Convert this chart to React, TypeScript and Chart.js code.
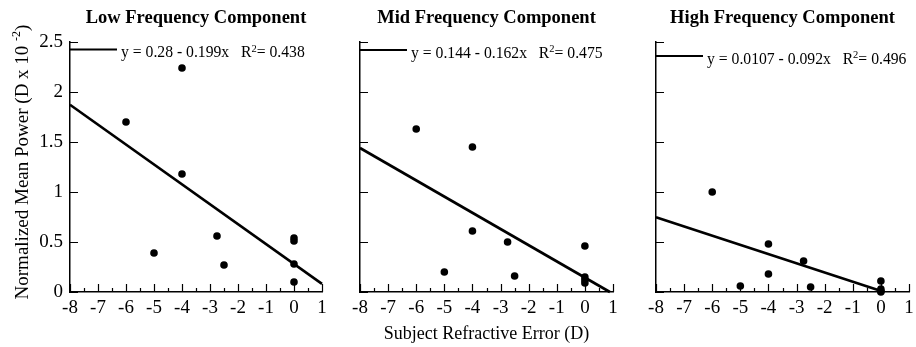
import React, { useEffect, useRef } from "react";
import { Chart, registerables } from "chart.js";

Chart.register(...registerables);

const SERIF = '"Liberation Serif", "Times New Roman", serif';

// Shared axis ranges and tick values
const xMin = -8;
const xMax = 1;
const yMin = 0;
const yMax = 2.5;
const yStep = 0.5;
const xStep = 1;

// Low frequency component
const lowTitle = "Low Frequency Component";
const lowX = [-6, -4, -4, -5, -2.75, -2.5, 0, 0, 0, 0];
const lowY = [1.7, 2.24, 1.18, 0.39, 0.56, 0.27, 0.54, 0.51, 0.28, 0.1];
const lowIntercept = 0.28;
const lowSlope = -0.199;
const lowR2 = 0.438;

// Mid frequency component
const midTitle = "Mid Frequency Component";
const midX = [-6, -4, -4, -5, -2.75, -2.5, 0, 0, 0, 0];
const midY = [1.63, 1.45, 0.61, 0.2, 0.5, 0.16, 0.46, 0.15, 0.12, 0.09];
const midIntercept = 0.144;
const midSlope = -0.162;
const midR2 = 0.475;

// High frequency component
const highTitle = "High Frequency Component";
const highX = [-6, -4, -4, -5, -2.75, -2.5, 0, 0, 0, 0];
const highY = [1.0, 0.48, 0.18, 0.06, 0.31, 0.05, 0.11, 0.03, 0.01, 0.0];
const highIntercept = 0.0107;
const highSlope = -0.092;
const highR2 = 0.496;

const xAxisTitle = "Subject Refractive Error (D)";
const yAxisTitle = "Normalized Mean Power (D x 10 ";
const yAxisExp = "-2";

type Seg = { t: string; size: number; dy?: number; bold?: boolean };

function segWidth(ctx: CanvasRenderingContext2D, segs: Seg[]) {
  let w = 0;
  for (const s of segs) {
    ctx.font = `${s.bold ? "bold " : ""}${s.size}px ${SERIF}`;
    w += ctx.measureText(s.t).width;
  }
  return w;
}

function drawSegs(ctx: CanvasRenderingContext2D, segs: Seg[], x: number, y: number, align: "left" | "center") {
  let cx = align === "center" ? x - segWidth(ctx, segs) / 2 : x;
  ctx.textAlign = "left";
  ctx.textBaseline = "alphabetic";
  ctx.fillStyle = "#000";
  for (const s of segs) {
    ctx.font = `${s.bold ? "bold " : ""}${s.size}px ${SERIF}`;
    ctx.fillText(s.t, cx, y + (s.dy || 0));
    cx += ctx.measureText(s.t).width;
  }
}

interface PanelProps {
  title: string;
  xs: number[];
  ys: number[];
  intercept: number;
  slope: number;
  r2: number;
  left: number;
  width: number;
  yWidth: number;
  rightPad: number;
  showYLabels: boolean;
  legendDy: number;
  showYTitle: boolean;
  showXTitle: boolean;
}

const HEIGHT = 347;

function Panel(p: PanelProps) {
  const ref = useRef<HTMLCanvasElement | null>(null);

  useEffect(() => {
    if (!ref.current) return;

    // fitted line over the x range, stopped where it meets y = 0
    const root = -p.intercept / p.slope;
    const xEnd = root < xMax ? root : xMax;
    const fit = [
      { x: xMin, y: p.intercept + p.slope * xMin },
      { x: xEnd, y: p.intercept + p.slope * xEnd },
    ];

    const decor = {
      id: "decor",
      beforeDatasetsDraw(chart: any) {
        const ctx = chart.ctx as CanvasRenderingContext2D;
        const xs = chart.scales.x;
        const ys = chart.scales.y;
        const area = chart.chartArea;
        ctx.save();
        ctx.strokeStyle = "#000";
        ctx.lineWidth = 1.2;
        ctx.beginPath();
        // inward y ticks
        for (let v = yMin; v <= yMax + 1e-9; v += yStep) {
          const py = Math.round(ys.getPixelForValue(v)) + 0.5;
          ctx.moveTo(area.left, py);
          ctx.lineTo(area.left + 8, py);
        }
        // inward x ticks: majors at integers, minors at halves
        for (let v = xMin; v <= xMax + 1e-9; v += xStep / 2) {
          const px = Math.round(xs.getPixelForValue(v)) + 0.5;
          const major = Math.abs(v - Math.round(v)) < 1e-9;
          ctx.moveTo(px, area.bottom);
          ctx.lineTo(px, area.bottom - (major ? 8 : 4));
        }
        ctx.stroke();
        ctx.restore();
      },
      afterDraw(chart: any) {
        const ctx = chart.ctx as CanvasRenderingContext2D;
        const area = chart.chartArea;
        ctx.save();
        // panel title
        drawSegs(ctx, [{ t: p.title, size: 18.5, bold: true }], (area.left + area.right) / 2, 23, "center");

        // regression legend
        const ly = area.top + p.legendDy;
        ctx.strokeStyle = "#000";
        ctx.lineWidth = 2.2;
        ctx.beginPath();
        ctx.moveTo(area.left, ly);
        ctx.lineTo(area.left + 47, ly);
        ctx.stroke();
        const eq = `y = ${p.intercept} - ${-p.slope}x`;
        drawSegs(
          ctx,
          [
            { t: eq + "   R", size: 15.7 },
            { t: "2", size: 10.5, dy: -5.5 },
            { t: `= ${p.r2}`, size: 15.7 },
          ],
          area.left + 51,
          ly + 7.5,
          "left"
        );

        if (p.showXTitle) {
          drawSegs(ctx, [{ t: xAxisTitle, size: 18 }], (area.left + area.right) / 2, 339, "center");
        }
        if (p.showYTitle) {
          ctx.translate(27.5, (area.top + area.bottom) / 2 - 5);
          ctx.rotate(-Math.PI / 2);
          drawSegs(
            ctx,
            [
              { t: yAxisTitle, size: 19 },
              { t: yAxisExp, size: 12, dy: -8 },
              { t: ")", size: 19 },
            ],
            0,
            0,
            "center"
          );
        }
        ctx.restore();
      },
    };

    const chart = new Chart(ref.current, {
      type: "scatter",
      data: {
        datasets: [
          {
            data: p.xs.map((x, i) => ({ x, y: p.ys[i] })),
            backgroundColor: "#000",
            borderColor: "#000",
            pointRadius: 3.8,
            pointHoverRadius: 3.8,
            borderWidth: 0,
            clip: false,
          },
          {
            data: fit,
            showLine: true,
            borderColor: "#000",
            borderWidth: 2.6,
            pointRadius: 0,
            pointHoverRadius: 0,
            clip: false,
          },
        ],
      },
      options: {
        responsive: false,
        animation: false,
        events: [],
        layout: {
          autoPadding: false,
          padding: { top: 42, right: p.rightPad, left: 0, bottom: 0 },
        },
        plugins: {
          legend: { display: false },
          title: { display: false },
          tooltip: { enabled: false },
        },
        scales: {
          x: {
            type: "linear",
            min: xMin,
            max: xMax,
            afterFit: (s: any) => {
              s.height = HEIGHT - 292;
              s.paddingLeft = 0;
              s.paddingRight = 0;
            },
            ticks: {
              stepSize: xStep,
              color: "#000",
              padding: 5,
              font: { family: SERIF, size: 19 },
              callback: (v: any) => String(v),
            },
            grid: { display: false, drawTicks: false },
            border: { display: true, color: "#000", width: 1.5 },
          },
          y: {
            type: "linear",
            min: yMin,
            max: yMax,
            afterFit: (s: any) => {
              s.width = p.yWidth;
              s.paddingTop = 0;
              s.paddingBottom = 0;
            },
            ticks: {
              display: p.showYLabels,
              stepSize: yStep,
              color: "#000",
              padding: 7,
              font: { family: SERIF, size: 19 },
              callback: (v: any) => String(v),
            },
            grid: { display: false, drawTicks: false },
            border: { display: true, color: "#000", width: 1.5 },
          },
        },
      },
      plugins: [decor],
    } as any);

    return () => chart.destroy();
  }, []);

  return (
    <canvas
      ref={ref}
      width={p.width}
      height={HEIGHT}
      style={{ position: "absolute", left: p.left, top: 0, width: p.width, height: HEIGHT }}
    />
  );
}

export default function App() {
  return (
    <div style={{ position: "absolute", left: 0, top: 0, width: 916, height: HEIGHT, background: "#fff" }}>
      <Panel
        title={lowTitle}
        xs={lowX}
        ys={lowY}
        intercept={lowIntercept}
        slope={lowSlope}
        r2={lowR2}
        left={0}
        width={330}
        yWidth={70}
        rightPad={8}
        showYLabels={true}
        legendDy={7.5}
        showYTitle={true}
        showXTitle={false}
      />
      <Panel
        title={midTitle}
        xs={midX}
        ys={midY}
        intercept={midIntercept}
        slope={midSlope}
        r2={midR2}
        left={330}
        width={290}
        yWidth={30}
        rightPad={7}
        showYLabels={false}
        legendDy={8}
        showYTitle={false}
        showXTitle={true}
      />
      <Panel
        title={highTitle}
        xs={highX}
        ys={highY}
        intercept={highIntercept}
        slope={highSlope}
        r2={highR2}
        left={620}
        width={296}
        yWidth={36}
        rightPad={7}
        showYLabels={false}
        legendDy={14}
        showYTitle={false}
        showXTitle={false}
      />
    </div>
  );
}
